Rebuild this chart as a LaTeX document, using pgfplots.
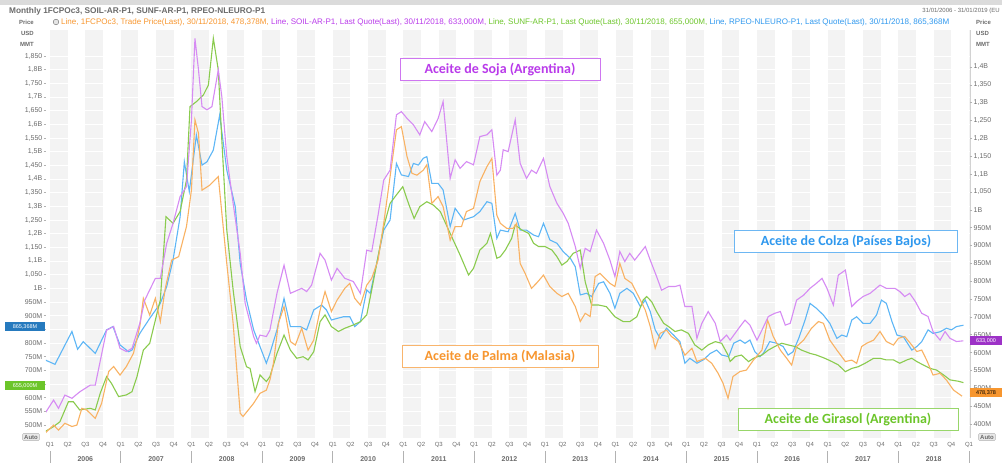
\documentclass[border=0pt]{standalone}
\usepackage{pgfplots}
\pgfplotsset{compat=1.18}
\usepackage{fontspec}
\setmainfont{Liberation Sans}
\newfontfamily\calib{Carlito}
\definecolor{lSoja}{HTML}{D68BF3}
\definecolor{lColza}{HTML}{5DB6F6}
\definecolor{lPalma}{HTML}{F9B263}
\definecolor{lGira}{HTML}{8ACB4E}
\definecolor{tSoja}{HTML}{B93BEA}
\definecolor{tColza}{HTML}{2F98EE}
\definecolor{tPalma}{HTML}{F7962F}
\definecolor{tGira}{HTML}{6CC52A}
\definecolor{bandgray}{HTML}{F3F3F3}
\definecolor{txtgray}{HTML}{6A6A6A}
\begin{document}
\begin{tikzpicture}[x=1pt,y=1pt]
\path[use as bounding box] (0,0) rectangle (1002,468);
% header bar
\fill[gray!28] (0,463) rectangle (1002,468);
\node[anchor=west,inner sep=0,text=txtgray] at (9,457) {\resizebox{256pt}{!}{\bfseries Monthly 1FCPOc3, SOIL-AR-P1, SUNF-AR-P1, RPEO-NLEURO-P1}};
\node[anchor=east,inner sep=0,text=txtgray] at (1000,457) {\fontsize{6}{7}\selectfont 31/01/2006 - 31/01/2019 (EU};
% legend line
\draw[txtgray,fill=gray!20] (56,446) circle (2.8);
\node[anchor=west,inner sep=0] at (61,446) {\resizebox{888pt}{!}{\textcolor{tPalma}{Line, 1FCPOc3, Trade Price(Last), 30/11/2018, 478,378M,} \textcolor{tSoja}{Line, SOIL-AR-P1, Last Quote(Last), 30/11/2018, 633,000M,} \textcolor{tGira}{Line, SUNF-AR-P1, Last Quote(Last), 30/11/2018, 655,000M,} \textcolor{tColza}{Line, RPEO-NLEURO-P1, Last Quote(Last), 30/11/2018, 865,368M}}};
% price labels
\foreach \t/\yy in {Price/446,USD/435,MMT/424}{
  \node[anchor=east,inner sep=0,text=txtgray,font=\bfseries\fontsize{6}{7}\selectfont] at (34,\yy) {\t};
  \node[anchor=west,inner sep=0,text=txtgray,font=\bfseries\fontsize{6}{7}\selectfont] at (976,\yy) {\t};
}
% plot background with quarter bands
\fill[bandgray] (46,30) rectangle (970,438);
\foreach \i in {0,...,12}{
  \fill[white] ({50+\i*70.69+17.67},30) rectangle ({50+\i*70.69+35.35},438);
  \fill[white] ({50+\i*70.69+53.02},30) rectangle ({min(50+\i*70.69+70.69,970)},438);
}
\fill[white] (46,30) rectangle (50,438);
\draw[gray!35] (970,30) -- (970,438);
% left axis
\begin{axis}[at={(46pt,30pt)},anchor=south west,scale only axis,width=924pt,height=408pt,
  xmin=2005.943,xmax=2019.013,ymin=452.4,ymax=1945.3,
  axis line style={draw=none},xtick=\empty,
  ytick={500,550,...,1850},
  yticklabels={500M,550M,600M,{},700M,750M,800M,{},900M,950M,1B,{1,050},{1,1B},{1,150},{1,2B},{1,250},{1,3B},{1,350},{1,4B},{1,450},{1,5B},{1,550},{1,6B},{1,650},{1,7B},{1,750},{1,8B},{1,850}},
  ytick pos=left,tick align=outside,major tick length=2.5pt,
  tick style={gray!60,line width=0.5pt},
  yticklabel style={font=\fontsize{7}{8}\selectfont,text=txtgray,inner sep=1pt},
  ymajorgrids,grid style={white,line width=0.7pt},
  /pgf/number format/assume math mode=true]
\addplot[lColza,line width=1.1pt] coordinates {(2005.93,738)(2006.07,722)(2006.31,842)(2006.39,777)(2006.47,805)(2006.64,762)(2006.80,848)(2006.89,860)(2006.99,793)(2007.11,768)(2007.16,774)(2007.27,835)(2007.41,890)(2007.56,945)(2007.65,1006)(2007.74,1104)(2007.84,1262)(2007.90,1463)(2007.97,1354)(2008.07,1561)(2008.15,1451)(2008.22,1463)(2008.31,1506)(2008.40,1634)(2008.50,1433)(2008.62,1299)(2008.69,1091)(2008.78,957)(2008.88,848)(2008.97,787)(2009.06,726)
(2009.11,762)(2009.21,848)(2009.31,963)(2009.40,860)(2009.54,860)(2009.63,848)(2009.73,921)(2009.84,939)(2009.91,921)(2009.98,884)(2010.06,890)(2010.15,896)(2010.24,896)(2010.31,860)(2010.39,878)(2010.48,994)(2010.53,982)(2010.62,1091)(2010.72,1213)(2010.81,1250)(2010.90,1457)(2010.97,1415)(2011.07,1409)(2011.14,1457)(2011.21,1451)(2011.28,1476)(2011.33,1482)(2011.40,1384)(2011.49,1384)(2011.56,1360)(2011.66,1226)(2011.73,1293)(2011.85,1250)(2011.99,1262)(2012.08,1281)(2012.18,1317)(2012.25,1311)(2012.32,1183)
(2012.37,1213)(2012.48,1207)(2012.58,1274)(2012.65,1213)(2012.74,1213)(2012.84,1195)(2012.91,1189)(2012.98,1238)(2013.07,1177)(2013.17,1165)(2013.26,1134)(2013.36,1110)(2013.43,1079)(2013.50,976)(2013.59,982)(2013.66,970)(2013.76,1018)(2013.83,1024)(2013.92,982)(2013.99,927)(2014.06,982)(2014.16,1000)(2014.25,982)(2014.35,933)(2014.42,957)(2014.49,915)(2014.56,848)(2014.63,817)(2014.72,854)(2014.82,829)(2014.91,805)(2014.98,726)(2015.05,744)(2015.15,726)(2015.24,738)(2015.34,762)(2015.43,774)(2015.50,756)(2015.60,750)
(2015.67,799)(2015.76,811)(2015.83,799)(2015.90,811)(2015.97,768)(2016.04,750)(2016.09,762)(2016.18,805)(2016.28,799)(2016.37,787)(2016.44,756)(2016.51,768)(2016.59,817)(2016.68,884)(2016.75,945)(2016.84,927)(2016.94,902)(2017.03,872)(2017.13,817)(2017.20,829)(2017.27,823)(2017.34,884)(2017.41,896)(2017.50,872)(2017.60,872)(2017.69,902)(2017.76,957)(2017.83,945)(2017.91,878)(2017.98,829)(2018.07,823)(2018.19,774)(2018.26,787)(2018.33,805)(2018.42,848)(2018.49,835)(2018.59,841)(2018.68,854)(2018.75,848)(2018.82,860)(2018.92,865)};
\addplot[lGira,line width=1.1pt] coordinates {(2005.93,476)(2006.05,494)(2006.14,512)(2006.26,585)(2006.33,585)(2006.42,555)(2006.57,561)(2006.64,555)(2006.71,616)(2006.80,677)(2006.87,652)(2006.97,604)(2007.08,610)(2007.16,622)(2007.23,677)(2007.32,774)(2007.41,799)(2007.49,884)(2007.56,957)(2007.64,1262)(2007.74,1238)(2007.84,1281)(2007.93,1396)(2007.98,1665)(2008.07,1683)(2008.17,1708)(2008.24,1744)(2008.31,1915)(2008.38,1799)(2008.43,1543)(2008.50,1214)(2008.59,994)(2008.69,787)(2008.78,713)(2008.83,707)(2008.90,622)(2008.97,683)(2009.06,659)
(2009.11,677)(2009.21,762)(2009.31,829)(2009.40,774)(2009.49,744)(2009.58,750)(2009.65,738)(2009.73,768)(2009.82,878)(2009.89,903)(2009.98,860)(2010.08,842)(2010.17,854)(2010.29,866)(2010.39,878)(2010.48,903)(2010.55,994)(2010.64,1116)(2010.72,1226)(2010.81,1311)(2010.90,1342)(2010.99,1372)(2011.07,1311)(2011.15,1256)(2011.23,1299)(2011.33,1317)(2011.42,1305)(2011.52,1281)(2011.66,1201)(2011.80,1122)(2011.92,1049)(2011.99,1073)(2012.08,1140)(2012.18,1165)(2012.23,1201)(2012.32,1110)
(2012.37,1116)(2012.44,1140)(2012.53,1183)(2012.58,1232)(2012.67,1214)(2012.77,1201)(2012.84,1165)(2012.91,1153)(2013.00,1153)(2013.10,1140)(2013.17,1116)(2013.24,1085)(2013.31,1098)(2013.40,1128)(2013.50,1140)(2013.57,1024)(2013.66,939)(2013.76,939)(2013.87,933)(2013.99,896)(2014.11,878)(2014.20,878)(2014.30,896)(2014.39,957)(2014.44,970)(2014.51,951)(2014.58,915)(2014.68,872)(2014.75,860)(2014.84,842)(2014.93,848)(2015.03,835)(2015.12,793)(2015.22,774)(2015.31,793)(2015.41,805)(2015.50,799)(2015.59,756)
(2015.62,732)(2015.69,750)(2015.78,756)(2015.88,732)(2015.95,744)(2016.07,756)(2016.16,774)(2016.25,787)(2016.35,799)(2016.44,793)(2016.54,787)(2016.63,774)(2016.75,762)(2016.84,756)(2016.96,744)(2017.06,732)(2017.15,720)(2017.25,695)(2017.34,707)(2017.43,713)(2017.53,726)(2017.65,744)(2017.74,744)(2017.83,738)(2017.93,738)(2018.02,726)(2018.12,738)(2018.19,744)(2018.26,732)(2018.35,720)(2018.45,707)(2018.54,701)(2018.64,683)(2018.73,665)(2018.85,660)(2018.92,655)};
\end{axis}
% right axis
\begin{axis}[at={(46pt,30pt)},anchor=south west,scale only axis,width=924pt,height=408pt,
  xmin=2005.943,xmax=2019.013,ymin=360.8,ymax=1503.6,
  axis line style={draw=none},xtick=\empty,
  ytick={400,450,...,1400},
  yticklabels={400M,450M,500M,550M,600M,650M,700M,750M,800M,850M,900M,950M,1B,{1,050},{1,1B},{1,150},{1,2B},{1,250},{1,3B},{1,350},{1,4B}},
  ytick pos=right,yticklabel pos=right,tick align=outside,major tick length=2.5pt,
  tick style={gray!60,line width=0.5pt},
  yticklabel style={font=\fontsize{7}{8}\selectfont,text=txtgray,inner sep=1pt},
  /pgf/number format/assume math mode=true]
\addplot[lPalma,line width=1.1pt] coordinates {(2005.93,374)(2006.05,397)(2006.12,383)(2006.21,402)(2006.31,393)(2006.38,397)(2006.45,444)(2006.52,439)(2006.64,416)(2006.73,458)(2006.83,547)(2006.90,561)(2006.99,537)(2007.08,561)(2007.18,598)(2007.27,673)(2007.32,752)(2007.41,705)(2007.49,752)(2007.56,687)(2007.63,780)(2007.72,859)(2007.82,869)(2007.93,953)(2008.00,1055)(2008.05,1252)(2008.10,1214)(2008.15,1055)(2008.26,1069)(2008.38,1093)(2008.50,850)(2008.59,682)(2008.69,430)(2008.73,421)(2008.88,458)(2008.97,486)(2009.06,495)
(2009.11,523)(2009.16,570)(2009.23,682)(2009.31,729)(2009.40,631)(2009.47,621)(2009.56,668)(2009.65,607)(2009.73,635)(2009.82,719)(2009.89,771)(2009.98,715)(2010.06,747)(2010.17,780)(2010.24,794)(2010.31,752)(2010.39,733)(2010.48,789)(2010.55,808)(2010.64,859)(2010.72,962)(2010.81,1093)(2010.90,1224)(2010.97,1233)(2011.05,1149)(2011.12,1102)(2011.19,1097)(2011.28,1111)(2011.33,1126)(2011.40,1018)(2011.49,1037)(2011.56,1009)(2011.66,915)(2011.73,953)(2011.82,953)(2011.89,995)(2011.99,1004)(2012.08,1079)(2012.18,1121)(2012.25,1144)(2012.32,985)
(2012.37,962)(2012.46,948)(2012.55,948)(2012.60,962)(2012.65,850)(2012.72,822)(2012.81,780)(2012.88,794)(2012.98,817)(2013.07,785)(2013.17,766)(2013.24,757)(2013.33,766)(2013.43,729)(2013.50,687)(2013.57,710)(2013.64,701)(2013.71,813)(2013.78,822)(2013.85,808)(2013.92,794)(2013.99,785)(2014.06,850)(2014.13,808)(2014.23,794)(2014.35,747)(2014.42,719)(2014.49,673)(2014.56,612)(2014.63,654)(2014.72,663)(2014.79,645)(2014.89,631)(2014.98,593)(2015.08,612)(2015.15,575)(2015.27,584)(2015.36,570)(2015.45,542)(2015.52,514)(2015.59,472)
(2015.66,533)(2015.76,547)(2015.85,551)(2015.95,579)(2016.07,607)(2016.15,691)(2016.23,645)(2016.33,607)(2016.42,584)(2016.49,565)(2016.56,617)(2016.66,635)(2016.77,668)(2016.87,687)(2016.94,682)(2017.03,635)(2017.13,607)(2017.25,575)(2017.34,579)(2017.41,570)(2017.48,617)(2017.55,626)(2017.65,635)(2017.74,659)(2017.83,631)(2017.93,621)(2018.00,640)(2018.09,645)(2018.19,621)(2018.26,603)(2018.33,607)(2018.40,579)(2018.49,537)(2018.59,542)(2018.68,523)(2018.78,495)(2018.90,478)};
\addplot[lSoja,line width=1.1pt] coordinates {(2005.93,430)(2006.05,467)(2006.12,444)(2006.21,481)(2006.31,472)(2006.42,490)(2006.57,509)(2006.64,509)(2006.80,663)(2006.90,673)(2006.99,612)(2007.08,603)(2007.16,612)(2007.27,682)(2007.34,747)(2007.49,808)(2007.56,808)(2007.65,906)(2007.74,962)(2007.84,1037)(2007.93,1065)(2008.00,1251)(2008.05,1480)(2008.10,1392)(2008.15,1289)(2008.22,1280)(2008.29,1289)(2008.38,1392)(2008.43,1317)(2008.50,1149)(2008.59,1018)(2008.69,878)(2008.76,738)(2008.88,645)(2008.92,626)(2008.97,649)(2009.06,645)
(2009.11,663)(2009.21,766)(2009.31,845)(2009.40,766)(2009.56,780)(2009.63,771)(2009.70,789)(2009.82,878)(2009.89,859)(2009.98,803)(2010.06,836)(2010.17,808)(2010.29,799)(2010.39,766)(2010.48,887)(2010.55,883)(2010.64,985)(2010.72,1083)(2010.81,1111)(2010.90,1266)(2010.97,1275)(2011.05,1256)(2011.14,1238)(2011.23,1210)(2011.30,1247)(2011.40,1219)(2011.49,1256)(2011.56,1303)(2011.66,1088)(2011.73,1140)(2011.80,1116)(2011.89,1135)(2011.99,1126)(2012.08,1205)(2012.18,1210)(2012.25,1224)(2012.32,1097)
(2012.37,1111)(2012.41,1168)(2012.48,1163)(2012.58,1252)(2012.65,1130)(2012.74,1088)(2012.81,1111)(2012.88,1102)(2012.98,1144)(2013.07,1065)(2013.17,1018)(2013.26,990)(2013.33,962)(2013.43,897)(2013.50,836)(2013.57,892)(2013.64,883)(2013.73,943)(2013.83,906)(2013.92,859)(2013.99,813)(2014.06,883)(2014.13,855)(2014.20,878)(2014.27,859)(2014.42,897)(2014.49,859)(2014.58,813)(2014.65,775)(2014.75,785)(2014.84,785)(2014.91,789)(2014.98,729)(2015.08,729)(2015.15,640)(2015.22,682)(2015.31,715)(2015.41,682)(2015.48,631)(2015.57,649)
(2015.62,635)(2015.76,673)(2015.83,691)(2015.90,677)(2016.00,635)(2016.07,663)(2016.16,701)(2016.25,710)(2016.33,715)(2016.40,677)(2016.47,682)(2016.56,747)(2016.66,761)(2016.75,780)(2016.84,794)(2016.92,808)(2016.99,780)(2017.08,733)(2017.15,817)(2017.25,831)(2017.34,729)(2017.41,743)(2017.50,757)(2017.60,766)(2017.74,789)(2017.83,780)(2017.95,780)(2018.02,771)(2018.09,757)(2018.16,766)(2018.24,743)(2018.33,710)(2018.42,701)(2018.49,659)(2018.59,635)(2018.66,659)(2018.73,640)(2018.82,631)(2018.92,633)};
\end{axis}
% x axis quarter labels and years
\foreach \i in {0,...,12}{
  \foreach \q in {1,...,4}{
    \node[inner sep=0,text=txtgray,font=\fontsize{6}{7}\selectfont] at ({50+\i*70.69+(\q-1)*17.67},23) {Q\q};
  }
  \pgfmathtruncatemacro{\yr}{2006+\i}
  \node[inner sep=0,text=txtgray,font=\bfseries\fontsize{7}{8}\selectfont] at ({50+\i*70.69+35.35},9) {\yr};
  \draw[gray!60,line width=0.6pt] ({50+\i*70.69},5) -- ({50+\i*70.69},17);
}
\node[inner sep=0,text=txtgray,font=\fontsize{6}{7}\selectfont] at (969,23) {Q1};
\draw[gray!60,line width=0.6pt] (969,5) -- (969,17);
% value tags
\node[fill=tColza!80!black,text=white,font=\fontsize{5.5}{6}\selectfont,minimum width=40pt,minimum height=9pt,inner sep=0] at (25,141) {865,368M};
\node[fill=tGira,text=white,font=\fontsize{5.5}{6}\selectfont,minimum width=40pt,minimum height=9pt,inner sep=0] at (25,82) {655,000M};
\node[fill=tSoja!85!black,text=white,font=\fontsize{5.5}{6}\selectfont,minimum width=32pt,minimum height=9pt,inner sep=0] at (986,127) {633,000};
\node[fill=tPalma,text=black,font=\fontsize{5.5}{6}\selectfont,minimum width=32pt,minimum height=9pt,inner sep=0] at (986,75) {478,378};
% auto buttons
\node[draw=gray!60,fill=gray!18,rounded corners=1pt,text=txtgray,font=\bfseries\fontsize{6}{7}\selectfont,inner sep=1.5pt] at (31,31) {Auto};
\node[draw=gray!60,fill=gray!18,rounded corners=1pt,text=txtgray,font=\bfseries\fontsize{6}{7}\selectfont,inner sep=1.5pt] at (987,31) {Auto};
% annotations
\node[draw=tSoja!70,line width=0.7pt,fill=white,text=tSoja,font=\calib\bfseries\fontsize{14}{16}\selectfont,minimum width=200pt,minimum height=22pt,inner sep=0] at (500,399) {Aceite de Soja (Argentina)};
\node[draw=tColza!70,line width=0.7pt,fill=white,text=tColza,font=\calib\bfseries\fontsize{14}{16}\selectfont,minimum width=223pt,minimum height=22pt,inner sep=0] at (846,227) {Aceite de Colza (Países Bajos)};
\node[draw=tPalma!70,line width=0.7pt,fill=white,text=tPalma,font=\calib\bfseries\fontsize{14}{16}\selectfont,minimum width=196pt,minimum height=22pt,inner sep=0] at (500,112) {Aceite de Palma (Malasia)};
\node[draw=tGira!70,line width=0.7pt,fill=white,text=tGira,font=\calib\bfseries\fontsize{14}{16}\selectfont,minimum width=220pt,minimum height=22pt,inner sep=0] at (848,49) {Aceite de Girasol (Argentina)};
\end{tikzpicture}
\end{document}
